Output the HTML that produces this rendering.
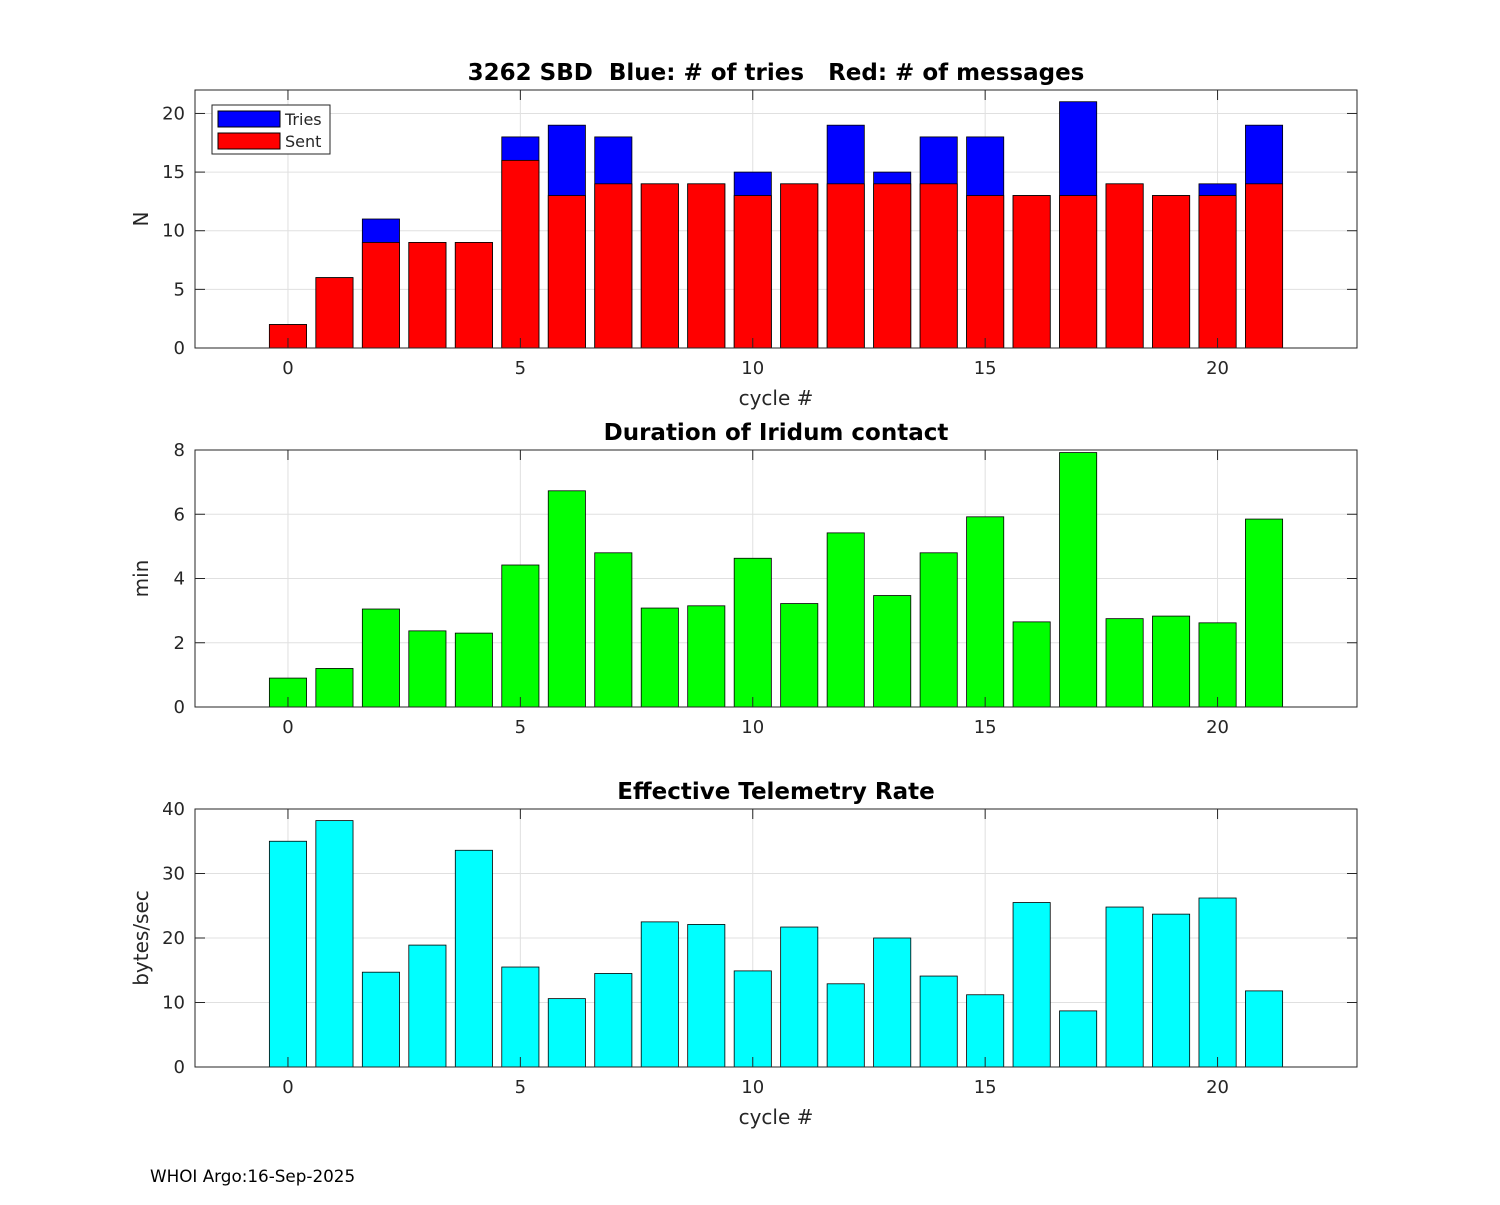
<!DOCTYPE html>
<html><head><meta charset="utf-8"><style>
body{margin:0;background:#fff;font-family:"Liberation Sans","DejaVu Sans",sans-serif}
svg text{font-family:"DejaVu Sans","Liberation Sans",sans-serif;fill:#262626;white-space:pre}
</style></head><body>
<svg id="c" width="1500" height="1200" xmlns="http://www.w3.org/2000/svg"></svg>
<script>
const cycles=[0,1,2,3,4,5,6,7,8,9,10,11,12,13,14,15,16,17,18,19,20,21];
const sentValues=[2,6,9,9,9,16,13,14,14,14,13,14,14,14,14,13,13,13,14,13,13,14];
const triesValues=[2,6,11,9,9,18,19,18,14,14,15,14,19,15,18,18,13,21,14,13,14,19];
const durationValues=[0.9,1.2,3.05,2.37,2.3,4.42,6.73,4.8,3.08,3.15,4.63,3.22,5.42,3.47,4.8,5.92,2.65,7.92,2.75,2.83,2.62,5.85];
const rateValues=[35,38.2,14.7,18.9,33.6,15.5,10.6,14.5,22.5,22.1,14.9,21.7,12.9,20,14.1,11.2,25.5,8.7,24.8,23.7,26.2,11.8];
const xTicks=[0,5,10,15,20];
const nTicks=[0,5,10,15,20];
const minTicks=[0,2,4,6,8];
const rateTicks=[0,10,20,30,40];

const svg=document.getElementById('c');
const NS='http://www.w3.org/2000/svg';
function mk(tag,at,parent){const e=document.createElementNS(NS,tag);for(const k in at)e.setAttribute(k,at[k]);(parent||svg).appendChild(e);return e;}
const L=195,R=1357,xmin=-2,xmax=23;
const xs=v=>L+(v-xmin)/(xmax-xmin)*(R-L);
function panel(top,bot,ymax,ticks,ylabel,title,name,xlabel){
  const g=mk('g',{});
  
  
  const ys=v=>bot-v/ymax*(bot-top);
  mk('rect',{x:L,y:top,width:R-L,height:bot-top,fill:'#fff'},g);
  xTicks.forEach(t=>{mk('line',{x1:xs(t),x2:xs(t),y1:top,y2:bot,stroke:'#e0e0e0','stroke-width':1},g);
    const tx=mk('text',{x:xs(t),y:bot+26,'text-anchor':'middle','font-size':18},g);tx.textContent=t;
    });
  ticks.forEach(t=>{mk('line',{x1:L,x2:R,y1:ys(t),y2:ys(t),stroke:'#e0e0e0','stroke-width':1},g);
    const tx=mk('text',{x:L-10,y:ys(t)+6,'text-anchor':'end','font-size':18},g);tx.textContent=t;
    });
  const yl=mk('text',{x:0,y:0,transform:`translate(${L-47},${(top+bot)/2}) rotate(-90)`,'text-anchor':'middle','font-size':20},g);
  yl.textContent=ylabel;
  const tt=mk('text',{x:(L+R)/2,y:top-10,'text-anchor':'middle','font-size':23,'font-weight':'bold'},g);
  tt.textContent=title;
  tt.style.fill='#000';
  if(xlabel){const xl=mk('text',{x:(L+R)/2,y:bot+57,'text-anchor':'middle','font-size':20},g);xl.textContent=xlabel;
    }
  return {g,ys,top,bot};
}
function bars(p,vals,color,name){
  const w=(xs(0.8)-xs(0));
  cycles.forEach((c,i)=>{const b=mk('rect',{x:xs(c)-w/2,y:p.ys(vals[i]),width:w,height:p.ys(0)-p.ys(vals[i]),fill:color,stroke:'#000','stroke-width':0.8},p.g);
    });
}
function frame(p){mk('rect',{x:L,y:p.top,width:R-L,height:p.bot-p.top,fill:'none',stroke:'#262626','stroke-width':1},p.g);
  xTicks.forEach(t=>{mk('line',{x1:xs(t),x2:xs(t),y1:p.bot,y2:p.bot-10,stroke:'#262626'},p.g);mk('line',{x1:xs(t),x2:xs(t),y1:p.top,y2:p.top+10,stroke:'#262626'},p.g);});}

const p1=panel(90,348,22,nTicks,'N','3262 SBD  Blue: # of tries   Red: # of messages','tries-sent-panel','cycle #');
bars(p1,triesValues,'#0000ff','tries-bar');
bars(p1,sentValues,'#ff0000','sent-bar');
nTicks.forEach(t=>{mk('line',{x1:L,x2:L+10,y1:p1.ys(t),y2:p1.ys(t),stroke:'#262626'},p1.g);mk('line',{x1:R,x2:R-10,y1:p1.ys(t),y2:p1.ys(t),stroke:'#262626'},p1.g);});
frame(p1);
const lg=mk('g',{});
mk('rect',{x:212,y:105,width:118,height:49,fill:'#fff',stroke:'#262626'},lg);
mk('rect',{x:218,y:111,width:62,height:16,fill:'#0000ff',stroke:'#000'},lg);
mk('rect',{x:218,y:133,width:62,height:16,fill:'#ff0000',stroke:'#000'},lg);
let t1=mk('text',{x:285,y:125,'font-size':16},lg);t1.textContent='Tries';
let t2=mk('text',{x:285,y:147,'font-size':16},lg);t2.textContent='Sent';

const p2=panel(450,707,8,minTicks,'min','Duration of Iridum contact','duration-panel',null);
bars(p2,durationValues,'#00ff00','duration-bar');
minTicks.forEach(t=>{mk('line',{x1:L,x2:L+10,y1:p2.ys(t),y2:p2.ys(t),stroke:'#262626'},p2.g);mk('line',{x1:R,x2:R-10,y1:p2.ys(t),y2:p2.ys(t),stroke:'#262626'},p2.g);});
frame(p2);

const p3=panel(809,1067,40,rateTicks,'bytes/sec','Effective Telemetry Rate','rate-panel','cycle #');
bars(p3,rateValues,'#00ffff','rate-bar');
rateTicks.forEach(t=>{mk('line',{x1:L,x2:L+10,y1:p3.ys(t),y2:p3.ys(t),stroke:'#262626'},p3.g);mk('line',{x1:R,x2:R-10,y1:p3.ys(t),y2:p3.ys(t),stroke:'#262626'},p3.g);});
frame(p3);

const ft=mk('text',{x:150,y:1182,'font-size':16.8});ft.textContent='WHOI Argo:16-Sep-2025';


ft.style.fill='#000';
</script>
</body></html>
